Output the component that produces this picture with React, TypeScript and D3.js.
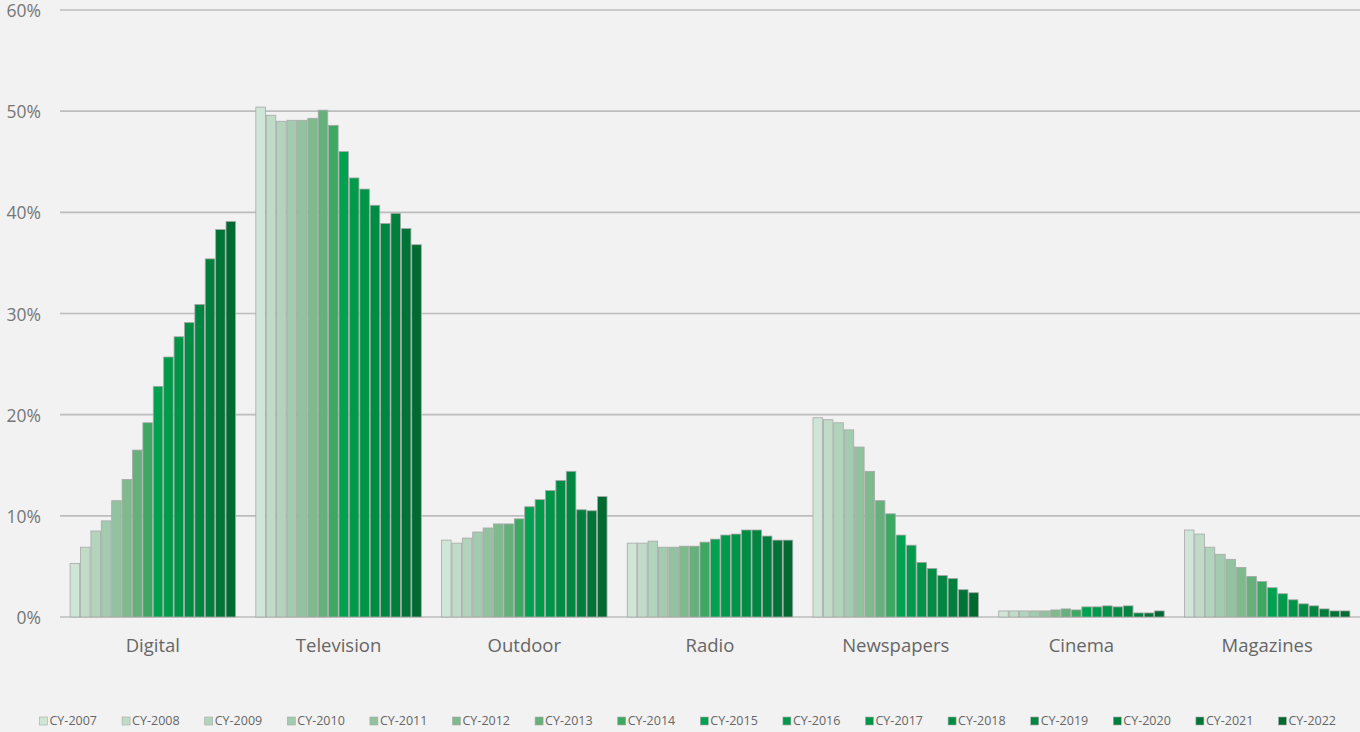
import React, { useEffect, useRef } from 'react'
import * as d3 from 'd3'

const CHANNELS = ['Digital', 'Television', 'Outdoor', 'Radio', 'Newspapers', 'Cinema', 'Magazines']

const YEARS = [
  'CY-2007', 'CY-2008', 'CY-2009', 'CY-2010', 'CY-2011', 'CY-2012', 'CY-2013', 'CY-2014',
  'CY-2015', 'CY-2016', 'CY-2017', 'CY-2018', 'CY-2019', 'CY-2020', 'CY-2021', 'CY-2022',
]

const YEAR_COLORS = [
  '#cfe5d7', '#c0dcc8', '#b2d4bd', '#a3cbb0', '#92c29f', '#7fba8d', '#65b07b', '#3ca862',
  '#00a24f', '#009a4a', '#009446', '#008d43', '#008640', '#007e3b', '#007436', '#006a31',
]

// share of ad spend (%) per channel, one value per year 2007..2022
const DIGITAL = [5.3, 6.9, 8.5, 9.5, 11.5, 13.6, 16.5, 19.2, 22.8, 25.7, 27.7, 29.1, 30.9, 35.4, 38.3, 39.1]
const TELEVISION = [50.4, 49.6, 49.0, 49.1, 49.1, 49.3, 50.1, 48.6, 46.0, 43.4, 42.3, 40.7, 38.9, 39.9, 38.4, 36.8]
const OUTDOOR = [7.6, 7.3, 7.8, 8.4, 8.8, 9.2, 9.2, 9.7, 10.9, 11.6, 12.5, 13.5, 14.4, 10.6, 10.5, 11.9]
const RADIO = [7.3, 7.3, 7.5, 6.9, 6.9, 7.0, 7.0, 7.4, 7.7, 8.1, 8.2, 8.6, 8.6, 8.0, 7.6, 7.6]
const NEWSPAPERS = [19.7, 19.5, 19.2, 18.5, 16.8, 14.4, 11.5, 10.2, 8.1, 7.1, 5.4, 4.8, 4.1, 3.8, 2.7, 2.4]
const CINEMA = [0.6, 0.6, 0.6, 0.6, 0.6, 0.7, 0.8, 0.7, 1.0, 1.0, 1.1, 1.0, 1.1, 0.4, 0.4, 0.6]
const MAGAZINES = [8.6, 8.2, 6.9, 6.2, 5.7, 4.9, 4.0, 3.5, 2.9, 2.3, 1.7, 1.3, 1.1, 0.8, 0.6, 0.6]

const SERIES_BY_CHANNEL = [DIGITAL, TELEVISION, OUTDOOR, RADIO, NEWSPAPERS, CINEMA, MAGAZINES]

const Y_TICKS = [0, 10, 20, 30, 40, 50, 60]

const FONT = '"Open Sans", "Noto Sans", sans-serif'

function SpendChart() {
  const svgRef = useRef<SVGSVGElement>(null)

  useEffect(() => {
    if (!svgRef.current) return
    const width = 1360
    const height = 732
    const plot = { left: 60, right: 1360, top: 10, bottom: 617 }

    const svg = d3.select(svgRef.current)
    svg.selectAll('*').remove()

    svg.append('rect').attr('width', width).attr('height', height).attr('fill', '#f2f2f2')

    const x0 = d3
      .scaleBand<string>()
      .domain(CHANNELS)
      .range([plot.left, plot.right])
      .paddingInner(0.1)
      .paddingOuter(0.05)

    const x1 = d3.scaleBand<string>().domain(YEARS).range([0, x0.bandwidth()]).padding(0.08)

    const y = d3.scaleLinear().domain([0, 60]).range([plot.bottom, plot.top])

    // gridlines
    svg
      .append('g')
      .selectAll('line')
      .data(Y_TICKS)
      .enter()
      .append('line')
      .attr('x1', plot.left)
      .attr('x2', plot.right)
      .attr('y1', (d) => y(d))
      .attr('y2', (d) => y(d))
      .attr('stroke', '#bdbdbd')
      .attr('stroke-width', 1.6)

    svg
      .append('g')
      .selectAll('text')
      .data(Y_TICKS)
      .enter()
      .append('text')
      .attr('x', 41)
      .attr('y', (d) => y(d) + 1)
      .attr('dy', '0.35em')
      .attr('text-anchor', 'end')
      .attr('fill', '#767676')
      .attr('font-family', FONT)
      .attr('font-size', 17.5)
      .text((d) => `${d}%`)

    const groups = svg
      .append('g')
      .selectAll<SVGGElement, string>('g.group')
      .data(CHANNELS)
      .enter()
      .append('g')
      .attr('class', 'group')
      .attr('transform', (d) => `translate(${x0(d)},0)`)

    groups
      .selectAll('rect')
      .data((_, i) => SERIES_BY_CHANNEL[i].map((v, j) => ({ year: YEARS[j], value: v, color: YEAR_COLORS[j] })))
      .enter()
      .append('rect')
      .attr('x', (d) => x1(d.year) ?? 0)
      .attr('y', (d) => y(d.value))
      .attr('width', x1.bandwidth())
      .attr('height', (d) => y(0) - y(d.value))
      .attr('fill', (d) => d.color)
      .attr('stroke', '#a8a8a8')
      .attr('stroke-width', 0.8)

    // category labels
    svg
      .append('g')
      .selectAll('text')
      .data(CHANNELS)
      .enter()
      .append('text')
      .attr('x', (d) => (x0(d) ?? 0) + x0.bandwidth() / 2)
      .attr('y', 646)
      .attr('dy', '0.35em')
      .attr('text-anchor', 'middle')
      .attr('fill', '#666666')
      .attr('font-family', FONT)
      .attr('font-size', 18.5)
      .text((d) => d)

    // legend
    const legend = svg
      .append('g')
      .selectAll<SVGGElement, string>('g.item')
      .data(YEARS)
      .enter()
      .append('g')
      .attr('class', 'item')
      .attr('transform', (_, i) => `translate(${39.5 + i * 82.6},721)`)

    legend
      .append('rect')
      .attr('x', 0)
      .attr('y', -4)
      .attr('width', 8)
      .attr('height', 8)
      .attr('fill', (_, i) => YEAR_COLORS[i])
      .attr('stroke', '#a8a8a8')
      .attr('stroke-width', 0.6)

    legend
      .append('text')
      .attr('x', 10)
      .attr('y', 0)
      .attr('dy', '0.35em')
      .attr('fill', '#666666')
      .attr('font-family', FONT)
      .attr('font-size', 12.5)
      .text((d) => d)
  }, [])

  return <svg ref={svgRef} width={1360} height={732} style={{ display: 'block' }} />
}

export default function App() {
  return (
    <div style={{ position: 'fixed', left: 0, top: 0, width: 1360, height: 732, background: '#f2f2f2' }}>
      <SpendChart />
    </div>
  )
}
